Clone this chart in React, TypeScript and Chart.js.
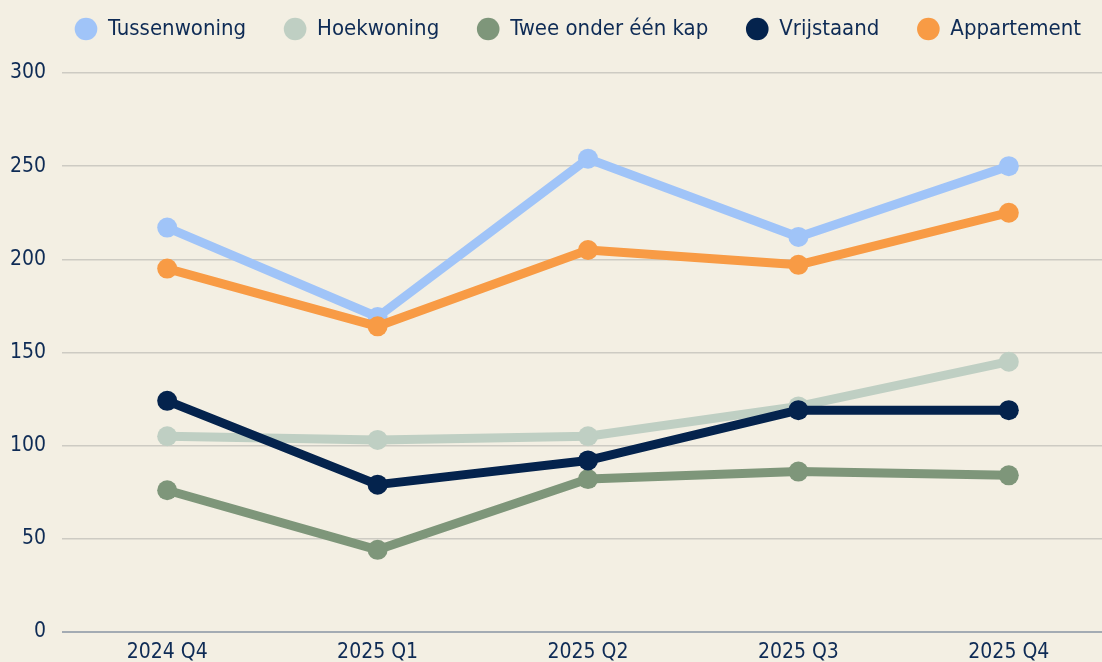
import React, { useEffect, useRef } from 'react';
import { Chart, registerables } from 'chart.js';

Chart.register(...registerables);

const categories = ['2024 Q4', '2025 Q1', '2025 Q2', '2025 Q3', '2025 Q4'];
const tussenwoning = [217, 169, 254, 212, 250];
const hoekwoning = [105, 103, 105, 121, 145];
const tweeOnderEenKap = [76, 44, 82, 86, 84];
const vrijstaand = [124, 79, 92, 119, 119];
const appartement = [195, 164, 205, 197, 225];
const seriesNames = ['Tussenwoning', 'Hoekwoning', 'Twee onder één kap', 'Vrijstaand', 'Appartement'];
const seriesColors = ['#A0C4F8', '#BFCFC3', '#7E967A', '#04234D', '#F89B45'];
const yTicks = [0, 50, 100, 150, 200, 250, 300];

const FONT = "'DejaVu Sans Condensed', 'Liberation Sans Narrow', sans-serif";
const TEXT = '#0E2B55';
const BG = '#F3EFE3';

export default function App() {
  const ref = useRef<HTMLCanvasElement | null>(null);

  useEffect(() => {
    if (!ref.current) return;
    const allSeries = [tussenwoning, hoekwoning, tweeOnderEenKap, vrijstaand, appartement];
    const datasets = allSeries.map((data, i) => ({
      label: seriesNames[i],
      data,
      borderColor: seriesColors[i],
      backgroundColor: seriesColors[i],
      borderWidth: 9,
      pointRadius: 10,
      pointHoverRadius: 10,
      pointBorderWidth: 0,
      tension: 0,
      order: allSeries.length - i,
      borderJoinStyle: 'round' as const,
    }));

    const legendSpacer = {
      id: 'legendSpacer',
      beforeInit(chart: any) {
        if (!chart.legend) return;
        const origFit = chart.legend.fit;
        chart.legend.fit = function fit() {
          origFit.bind(chart.legend)();
          this.height += 23;
        };
      },
    };

    const chart = new Chart(ref.current, {
      type: 'line',
      data: { labels: categories, datasets },
      plugins: [legendSpacer],
      options: {
        animation: false,
        responsive: false,
        maintainAspectRatio: false,
        layout: { padding: { top: -20, left: 4, right: 0, bottom: 7 } },
        plugins: {
          tooltip: { enabled: false },
          legend: {
            display: true,
            position: 'top',
            align: 'center',
            labels: {
              usePointStyle: true,
              pointStyle: 'circle',
              boxWidth: 24,
              boxHeight: 16,
              padding: 38,
              color: TEXT,
              font: { family: FONT, size: 22 },
              sort: (a: any, b: any) => a.datasetIndex - b.datasetIndex,
              generateLabels: (c: any) =>
                Chart.defaults.plugins.legend.labels.generateLabels(c).map((l: any) => ({
                  ...l,
                  lineWidth: 0,
                  fillStyle: seriesColors[l.datasetIndex],
                  strokeStyle: seriesColors[l.datasetIndex],
                })),
            },
          },
        },
        scales: {
          x: {
            type: 'category',
            offset: true,
            grid: { display: false, drawTicks: false },
            border: { display: false },
            ticks: { color: TEXT, font: { family: FONT, size: 21 }, padding: 8 },
          },
          y: {
            min: 0,
            max: 300,
            afterBuildTicks: (scale: any) => {
              scale.ticks = yTicks.map((v) => ({ value: v }));
            },
            afterFit: (scale: any) => {
              scale.width = 58;
            },
            grid: {
              drawTicks: false,
              color: (ctx: any) => (ctx.tick && ctx.tick.value === 0 ? '#A3ABB3' : '#CDCBC3'),
              lineWidth: (ctx: any) => (ctx.tick && ctx.tick.value === 0 ? 2 : 1.5),
            },
            border: { display: false },
            ticks: { color: TEXT, font: { family: FONT, size: 21 }, padding: 16 },
          },
          y2: {
            position: 'right',
            display: true,
            grid: { display: false, drawTicks: false },
            border: { display: false },
            ticks: { display: false },
            afterFit: (scale: any) => {
              scale.width = 38;
            },
          },
        },
      },
    } as any);

    return () => chart.destroy();
  }, []);

  return (
    <div
      style={{
        position: 'fixed',
        left: 0,
        top: 0,
        width: 1102,
        height: 662,
        overflow: 'hidden',
        background: BG,
      }}
    >
      <canvas ref={ref} width={1152} height={680} style={{ width: 1152, height: 680, display: 'block' }} />
    </div>
  );
}
